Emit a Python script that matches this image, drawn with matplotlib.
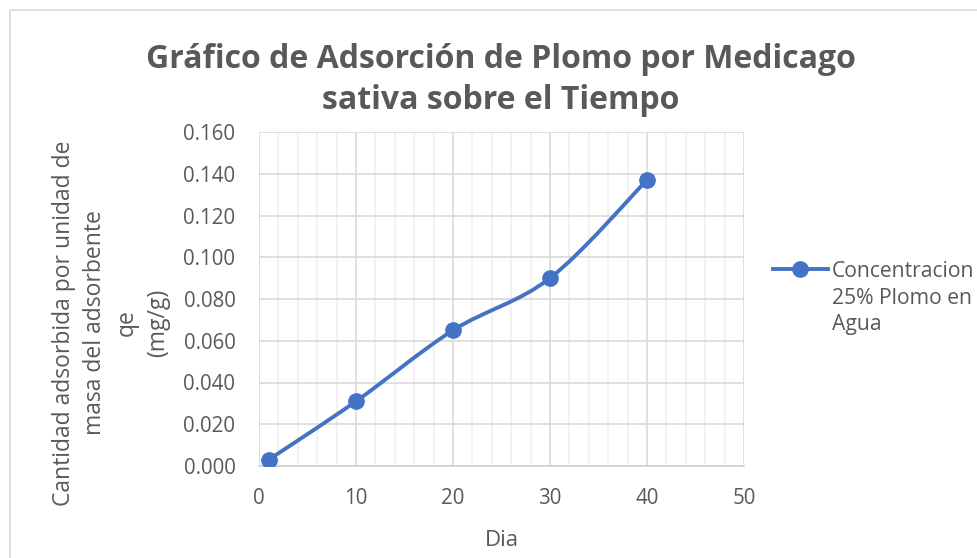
import numpy as np
import matplotlib
matplotlib.use("Agg")
import matplotlib.pyplot as plt
from matplotlib.path import Path
from matplotlib.patches import PathPatch, Rectangle
from matplotlib.lines import Line2D
from matplotlib.ticker import MultipleLocator

dias = [1, 10, 20, 30, 40]
qe = [0.003, 0.031, 0.065, 0.090, 0.137]
serie = "Concentracion\n25% Plomo en\nAgua"
titulo = "Gráfico de Adsorción de Plomo por Medicago\nsativa sobre el Tiempo"
ylab = "Cantidad adsorbida por unidad de\nmasa del adsorbente\nqe\n(mg/g)"

azul = "#4472C4"
gris = "#595959"
plt.rcParams['font.family'] = ['Open Sans', 'DejaVu Sans']

fig = plt.figure(figsize=(9.77, 5.58), dpi=100)
ax = fig.add_axes([259/977, 1-466/558, 485/977, 334/558])

# curva suavizada tipo Excel (bezier entre los puntos)
pts = np.column_stack([dias, qe]).astype(float)
verts = [tuple(pts[0])]
codes = [Path.MOVETO]
n = len(pts)
for i in range(n - 1):
    p0 = pts[max(i - 1, 0)]
    p1 = pts[i]
    p2 = pts[i + 1]
    p3 = pts[min(i + 2, n - 1)]
    c1 = p1 + (p2 - p0) / 6
    c2 = p2 - (p3 - p1) / 6
    verts += [tuple(c1), tuple(c2), tuple(p2)]
    codes += [Path.CURVE4] * 3
ax.add_patch(PathPatch(Path(verts, codes), fill=False, edgecolor=azul,
                       lw=2.8, capstyle='round', zorder=3))
ax.plot(dias, qe, 'o', color=azul, ms=11, zorder=4)

ax.set_xlim(0, 50)
ax.set_ylim(0, 0.16)
ax.xaxis.set_major_locator(MultipleLocator(10))
ax.xaxis.set_minor_locator(MultipleLocator(2))
yt = np.arange(0, 0.161, 0.02)
ax.set_yticks(yt)
ax.set_yticklabels([f"{v:.3f}" for v in yt])
ax.grid(which='major', color='#D9D9D9', lw=1.2)
ax.grid(which='minor', axis='x', color='#F0F0F0', lw=1.2)
ax.set_axisbelow(True)
for s in ['top', 'right', 'left']:
    ax.spines[s].set_visible(False)
ax.spines['bottom'].set_color('#D0D0D0')
ax.spines['bottom'].set_linewidth(1.2)
ax.tick_params(which='both', length=0, labelsize=14.8, labelcolor=gris)
ax.tick_params(axis='x', pad=16)
ax.tick_params(axis='y', pad=17)

ax.set_xlabel("Dia", fontsize=16, color=gris, labelpad=15)
fig.text(111/977, 1-323/558, ylab, rotation=90, ha='center', va='center',
         fontsize=16.5, color=gris, linespacing=1.4)
fig.text(501/977, 1-80/558, titulo, ha='center', va='center',
         fontsize=23, fontweight='bold', color=gris, linespacing=1.3)

# leyenda: simbolo alineado con la primera linea del texto
ly = 1 - 269/558
fig.add_artist(Line2D([773/977, 828/977], [ly, ly], color=azul, lw=2.8))
fig.add_artist(Line2D([800/977], [ly], color=azul, marker='o', ms=11))
fig.text(832/977, 1-298/558, serie, ha='left', va='center',
         fontsize=15.2, color=gris, linespacing=1.32)

fig.add_artist(Rectangle((10/977, -0.05), 1.1, 1-10/558+0.05,
                         transform=fig.transFigure, fill=False,
                         edgecolor='#D9D9D9', lw=1.2))

fig.savefig("out.png", dpi=100)
